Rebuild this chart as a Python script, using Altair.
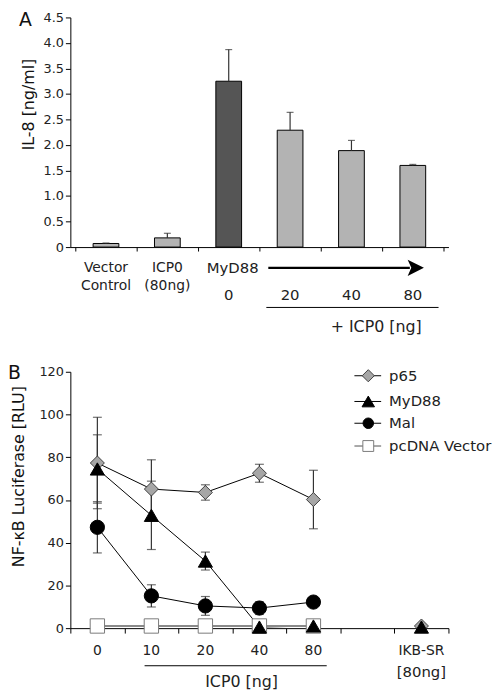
import altair as alt
import pandas as pd

# ---------------- Panel A data ----------------
a_top = ["Vector", "ICP0", "MyD88", "", "", ""]
a_bottom = ["Control", "(80ng)", "", "", "", ""]
a_dose = ["", "", "0", "20", "40", "80"]
il8 = [0.07, 0.18, 3.25, 2.29, 1.89, 1.60]
il8_err = [0.01, 0.09, 0.62, 0.35, 0.20, 0.02]
a_kind = ["light", "light", "dark", "light", "light", "light"]
a_ticks = [0, 0.5, 1.0, 1.5, 2.0, 2.5, 3.0, 3.5, 4.0, 4.5]

# ---------------- Panel B data ----------------
b_doses = ["0", "10", "20", "40", "80", "", "IKB-SR"]
b_doses2 = ["", "", "", "", "", "", "[80ng]"]
series = ["p65", "MyD88", "Mal", "pcDNA Vector"]
p65 = [77.3, 65.1, 63.5, 72.5, 60.2, None, 1.0]
p65_err = [21.4, 13.7, 3.6, 4.2, 13.7, None, 0.0]
myd88 = [74.5, 52.8, 31.4, 0.5, 1.0, None, 0.5]
myd88_err = [16.0, 16.0, 4.2, 0.0, 0.0, None, 0.0]
mal = [47.2, 15.1, 10.4, 9.4, 12.2, None, None]
mal_err = [12.0, 5.2, 4.4, 3.0, 0.8, None, None]
pcdna = [1.0, 1.0, 1.0, 1.0, 1.0, None, None]
pcdna_err = [0.0, 0.0, 0.0, 0.0, 0.0, None, None]
b_ticks = [0, 20, 40, 60, 80, 100, 120]

shapes = ["diamond", "triangle-up", "circle", "square"]
fills = ["#a6a6a6", "#000000", "#000000", "#ffffff"]
strokes = ["#404040", "#000000", "#000000", "#7a7a7a"]
sizes = [200, 210, 150, 160]
draw_order = ["pcDNA Vector", "p65", "Mal", "MyD88"]

FONT = "DejaVu Sans"

# ================= Panel A =================
WA, HA = 382, 232
df_a = pd.DataFrame({
    "pos": [i + 0.5 for i in range(len(il8))],
    "v": il8,
    "hi": [v + e for v, e in zip(il8, il8_err)],
    "kind": a_kind,
    "top": a_top,
    "bottom": a_bottom,
    "dose": a_dose,
})

xa = alt.X("pos:Q",
           scale=alt.Scale(domain=[0, len(il8)], nice=False, zero=False),
           axis=alt.Axis(values=list(range(len(il8) + 1)), tickCount=len(il8) + 1,
                         labels=False, title=None,
                         grid=False, tickSize=4, domainColor="#000", tickColor="#000"))
ya = alt.Y("v:Q",
           scale=alt.Scale(domain=[0, 4.5], nice=False),
           axis=alt.Axis(values=a_ticks, tickCount=len(a_ticks), labelOverlap=False,
                         labelExpr="datum.value == 0 ? '0' : format(datum.value, '.1f')",
                         title=None, labelFontSize=13, labelColor="#222", grid=False, tickSize=5,
                         domainColor="#000", tickColor="#000"))

base_a = alt.Chart(df_a)
bars = base_a.mark_bar(size=26, stroke="#000", strokeWidth=1).encode(
    x=xa, y=ya,
    fill=alt.condition("datum.kind == 'dark'", alt.value("#555555"), alt.value("#b3b3b3")))
err_a = base_a.mark_rule(color="#333", strokeWidth=1.2).encode(x="pos:Q", y="v:Q", y2="hi:Q")
cap_a = base_a.mark_tick(orient="horizontal", size=7, thickness=1.2, color="#333").encode(x="pos:Q", y="hi:Q")

lab_top = base_a.transform_filter("datum.top != '' && datum.top != 'MyD88'").mark_text(
    fontSize=14, font=FONT, color="#222").encode(x="pos:Q", y=alt.value(HA + 21), text="top:N")
lab_myd = base_a.transform_filter("datum.top == 'MyD88'").mark_text(
    fontSize=15, font=FONT, color="#222", dx=4).encode(x="pos:Q", y=alt.value(HA + 21), text="top:N")
lab_bot = base_a.transform_filter("datum.bottom != ''").mark_text(
    fontSize=14, font=FONT, color="#222").encode(x="pos:Q", y=alt.value(HA + 39), text="bottom:N")
lab_dose = base_a.transform_filter("datum.dose != ''").mark_text(
    fontSize=15, font=FONT, color="#222").encode(x="pos:Q", y=alt.value(HA + 48), text="dose:N")

one = pd.DataFrame({"k": [0]})
title_a = alt.Chart(one).mark_text(text="IL-8 [ng/ml]", fontSize=16, font=FONT, angle=270,
                                   align="center", baseline="middle", color="#111").encode(
    x=alt.value(-42), y=alt.value(88))
arrow_line = alt.Chart(one).mark_rule(color="#000", strokeWidth=2.2).encode(
    x=alt.value(200), x2=alt.value(343), y=alt.value(HA + 21))
arrow_head = alt.Chart(one).mark_point(
    shape="M-1,-1L1,0L-1,1L-0.55,0Z", filled=True, color="#000", opacity=1, size=270).encode(
    x=alt.value(349), y=alt.value(HA + 21))
underline_a = alt.Chart(one).mark_rule(color="#000", strokeWidth=1).encode(
    x=alt.value(198), x2=alt.value(372), y=alt.value(HA + 61))
caption_a = alt.Chart(one).mark_text(text="+ ICP0 [ng]", fontSize=16, font=FONT, color="#222").encode(
    x=alt.value(309), y=alt.value(HA + 81))
letter_a = alt.Chart(one).mark_text(text="A", fontSize=19, font=FONT, align="left", baseline="top",
                                    color="#111").encode(x=alt.value(-52), y=alt.value(-6))

panel_a = alt.layer(bars, err_a, cap_a, lab_top, lab_myd, lab_bot, lab_dose, title_a,
                    arrow_line, arrow_head, underline_a, caption_a, letter_a).properties(width=WA, height=HA)

# ================= Panel B =================
WB, HB = 382, 259
vals = {"p65": (p65, p65_err), "MyD88": (myd88, myd88_err), "Mal": (mal, mal_err),
        "pcDNA Vector": (pcdna, pcdna_err)}
rows = []
for s in draw_order:
    v, e = vals[s]
    for i, (vv, ee) in enumerate(zip(v, e)):
        if vv is None:
            continue
        rows.append({"series": s, "pos": i + 0.5, "v": vv, "lo": vv - ee, "hi": vv + ee,
                     "haserr": ee > 0.5, "online": i < 5, "ord": draw_order.index(s)})
df_b = pd.DataFrame(rows)
df_lab = pd.DataFrame({"pos": [i + 0.5 for i in range(len(b_doses))], "d1": b_doses, "d2": b_doses2})

xb = alt.X("pos:Q",
           scale=alt.Scale(domain=[0, len(b_doses)], nice=False, zero=False),
           axis=alt.Axis(values=list(range(len(b_doses) + 1)), tickCount=len(b_doses) + 1,
                         labels=False, title=None,
                         grid=False, tickSize=5, domainColor="#000", tickColor="#000"))
yb = alt.Y("v:Q",
           scale=alt.Scale(domain=[0, 120], nice=False),
           axis=alt.Axis(values=b_ticks, tickCount=len(b_ticks), labelOverlap=False, title=None,
                         labelFontSize=13, labelColor="#222", grid=False, tickSize=5,
                         domainColor="#000", tickColor="#000"))

base_b = alt.Chart(df_b)
line_black = base_b.transform_filter("datum.online && datum.series != 'pcDNA Vector'").mark_line(
    color="#000", strokeWidth=1).encode(x=xb, y=yb, detail="series:N", order="pos:Q")
line_gray = base_b.transform_filter("datum.online && datum.series == 'pcDNA Vector'").mark_line(
    color="#8a8a8a", strokeWidth=2).encode(x="pos:Q", y="v:Q", order="pos:Q")
err_b = base_b.transform_filter("datum.haserr").mark_rule(color="#333", strokeWidth=1.2).encode(
    x="pos:Q", y="lo:Q", y2="hi:Q")
cap_hi = base_b.transform_filter("datum.haserr").mark_tick(
    orient="horizontal", size=9, thickness=1.2, color="#333").encode(x="pos:Q", y="hi:Q")
cap_lo = base_b.transform_filter("datum.haserr").mark_tick(
    orient="horizontal", size=9, thickness=1.2, color="#333").encode(x="pos:Q", y="lo:Q")
pts = base_b.mark_point(filled=True, opacity=1, strokeWidth=1).encode(
    x="pos:Q", y="v:Q",
    shape=alt.Shape("series:N", scale=alt.Scale(domain=series, range=shapes), legend=None),
    fill=alt.Fill("series:N", scale=alt.Scale(domain=series, range=fills), legend=None),
    stroke=alt.Stroke("series:N", scale=alt.Scale(domain=series, range=strokes), legend=None),
    size=alt.Size("series:N", scale=alt.Scale(domain=series, range=sizes), legend=None),
    order="ord:Q")

base_l = alt.Chart(df_lab)
xl1 = base_l.transform_filter("datum.d1 != ''").mark_text(fontSize=14, font=FONT, color="#222").encode(
    x="pos:Q", y=alt.value(HB + 23), text="d1:N")
xl2 = base_l.transform_filter("datum.d2 != ''").mark_text(fontSize=15, font=FONT, color="#222").encode(
    x="pos:Q", y=alt.value(HB + 44), text="d2:N")
title_b = alt.Chart(one).mark_text(text="NF-\u03baB Luciferase [RLU]", fontSize=16, font=FONT, angle=270,
                                   align="center", baseline="middle", color="#111").encode(
    x=alt.value(-52), y=alt.value(106))
underline_b = alt.Chart(one).mark_rule(color="#000", strokeWidth=1).encode(
    x=alt.value(75), x2=alt.value(259), y=alt.value(HB + 38))
caption_b = alt.Chart(one).mark_text(text="ICP0 [ng]", fontSize=16, font=FONT, color="#222").encode(
    x=alt.value(173), y=alt.value(HB + 54))
letter_b = alt.Chart(one).mark_text(text="B", fontSize=19, font=FONT, align="left", baseline="top",
                                    color="#111").encode(x=alt.value(-63), y=alt.value(-8))

# legend (Excel style: line through marker)
leg_y = [4, 30, 52, 75]
leg_layers = []
for i, s in enumerate(series):
    leg_layers.append(alt.Chart(one).mark_rule(
        color="#8a8a8a" if s == "pcDNA Vector" else "#000", strokeWidth=1.5 if s == "pcDNA Vector" else 1).encode(
        x=alt.value(287), x2=alt.value(314), y=alt.value(leg_y[i])))
    leg_layers.append(alt.Chart(one).mark_point(
        shape=shapes[i], filled=True, fill=fills[i], stroke=strokes[i], strokeWidth=1, opacity=1,
        size=sizes[i] * 0.75).encode(x=alt.value(301), y=alt.value(leg_y[i])))
    leg_layers.append(alt.Chart(one).mark_text(
        text=s, fontSize=15, font=FONT, align="left", color="#222").encode(
        x=alt.value(322), y=alt.value(leg_y[i])))

panel_b = alt.layer(line_black, line_gray, err_b, cap_hi, cap_lo, pts, xl1, xl2, title_b,
                    underline_b, caption_b, letter_b, *leg_layers).properties(width=WB, height=HB)

chart = alt.concat(panel_a, panel_b, columns=1, spacing=29, align="none").configure(
    font=FONT, padding=0
).configure_view(stroke=None)

chart.save("out.html", embed_options={"renderer": "svg", "actions": False})
